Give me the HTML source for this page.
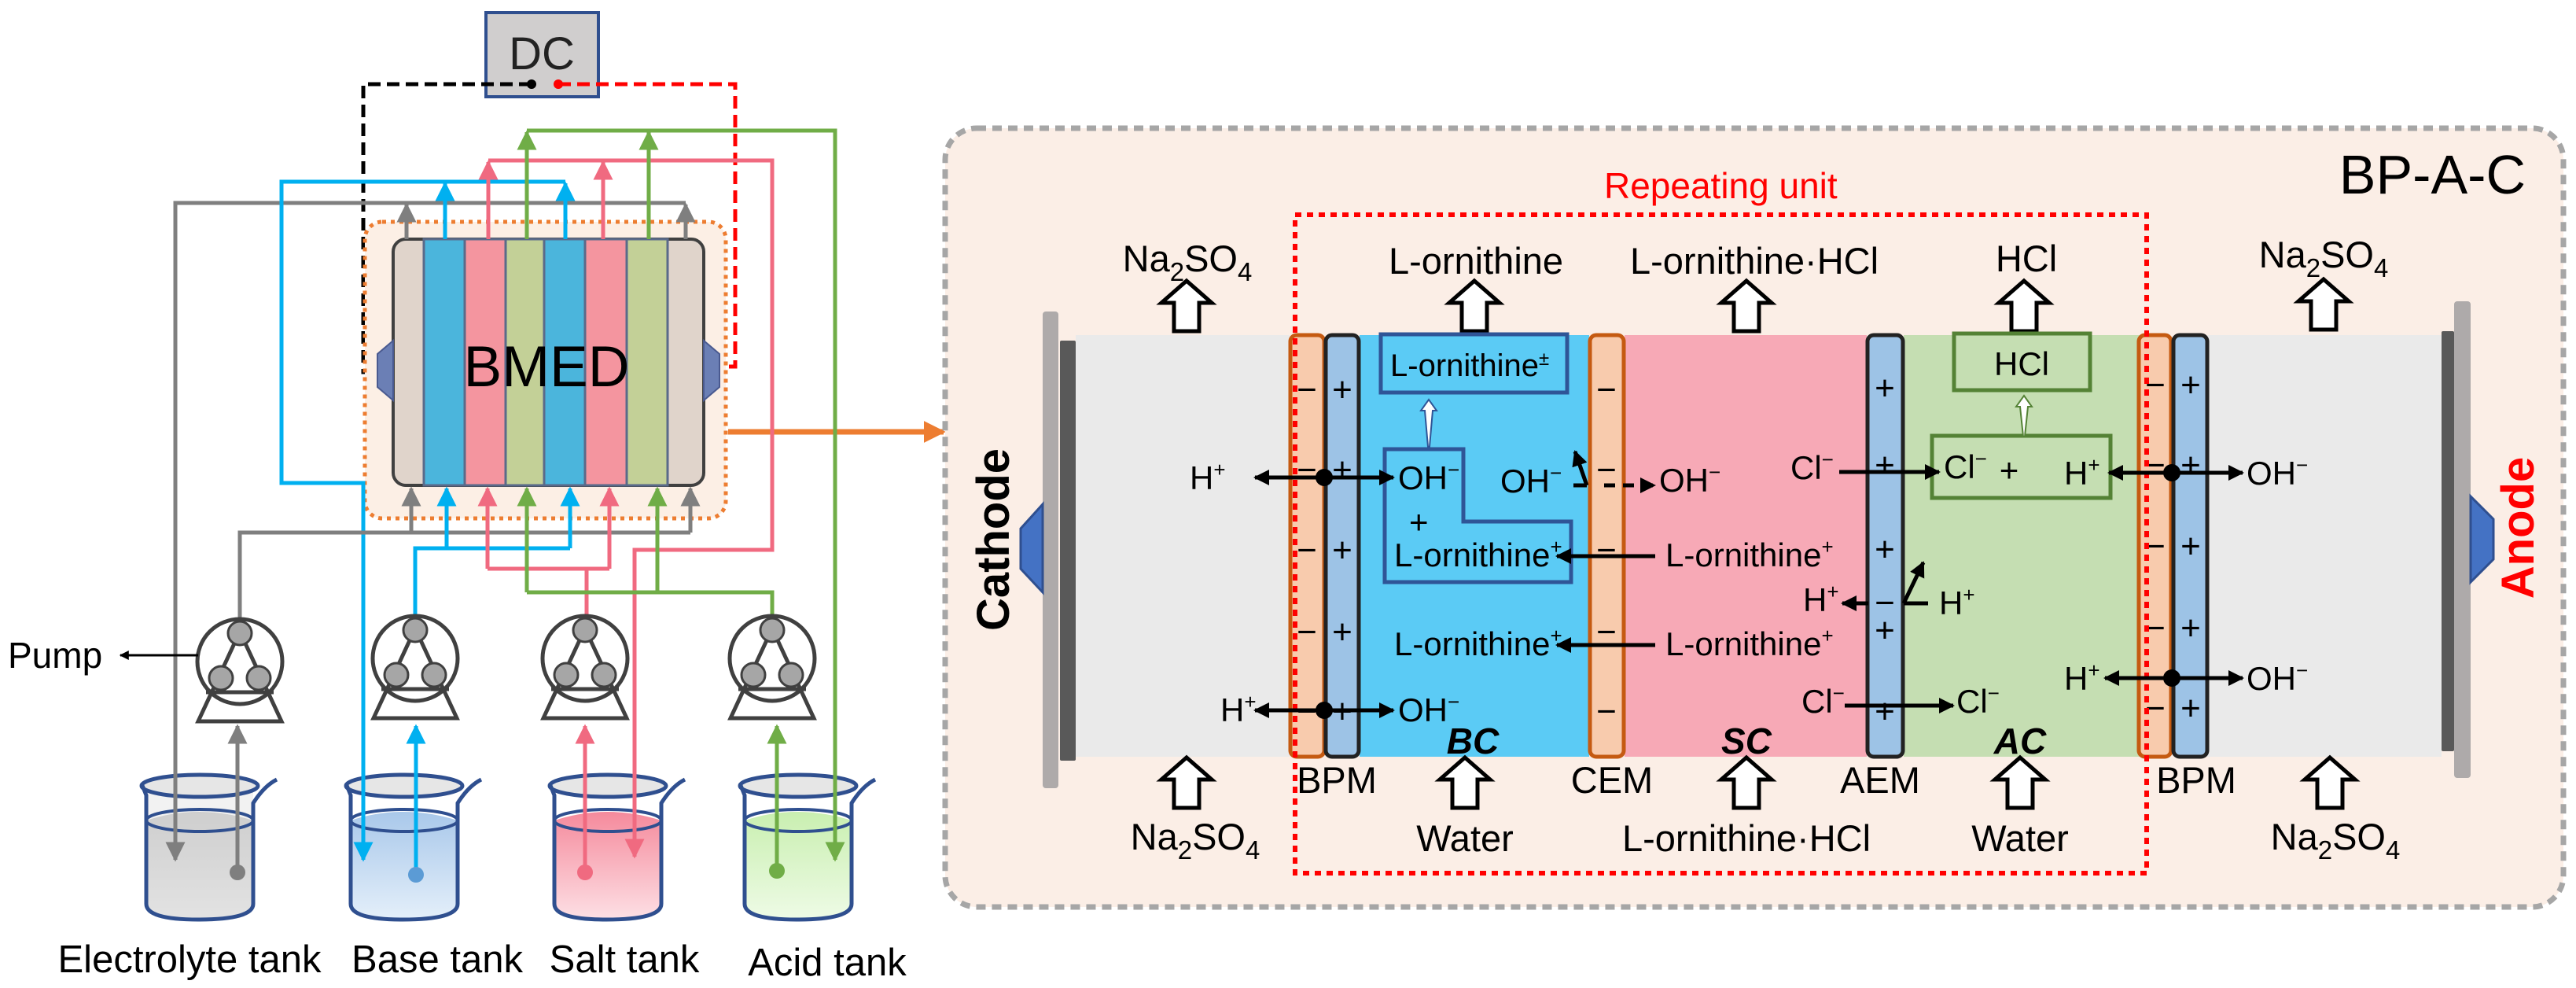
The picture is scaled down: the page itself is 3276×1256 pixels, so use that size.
<!DOCTYPE html>
<html><head><meta charset="utf-8"><style>html,body{margin:0;padding:0;background:#fff}svg{display:block}text{font-family:"Liberation Sans",Arial,sans-serif}</style></head>
<body>
<svg width="3276" height="1256" viewBox="0 0 3276 1256" xmlns="http://www.w3.org/2000/svg">
<defs>
<marker id="mk" viewBox="0 0 10 10" refX="9" refY="5" markerWidth="4" markerHeight="4" orient="auto" markerUnits="strokeWidth"><path d="M0,0L10,5L0,10z" fill="#000"/></marker>
<marker id="mgr" viewBox="0 0 10 10" refX="9" refY="5" markerWidth="5" markerHeight="5" orient="auto" markerUnits="strokeWidth"><path d="M0,0L10,5L0,10z" fill="#7f7f7f"/></marker>
<marker id="mbl" viewBox="0 0 10 10" refX="9" refY="5" markerWidth="5" markerHeight="5" orient="auto" markerUnits="strokeWidth"><path d="M0,0L10,5L0,10z" fill="#00b0f0"/></marker>
<marker id="mpk" viewBox="0 0 10 10" refX="9" refY="5" markerWidth="5" markerHeight="5" orient="auto" markerUnits="strokeWidth"><path d="M0,0L10,5L0,10z" fill="#f06a80"/></marker>
<marker id="mgn" viewBox="0 0 10 10" refX="9" refY="5" markerWidth="5" markerHeight="5" orient="auto" markerUnits="strokeWidth"><path d="M0,0L10,5L0,10z" fill="#70ad47"/></marker>
<marker id="mor" viewBox="0 0 10 10" refX="9" refY="5" markerWidth="4" markerHeight="4" orient="auto" markerUnits="strokeWidth"><path d="M0,0L10,5L0,10z" fill="#ed7d31"/></marker>
<linearGradient id="gE" x1="0" y1="0" x2="0" y2="1"><stop offset="0" stop-color="#c8c8c8"/><stop offset="1" stop-color="#e8e8e8"/></linearGradient>
<linearGradient id="gB" x1="0" y1="0" x2="0" y2="1"><stop offset="0" stop-color="#a9c8ea"/><stop offset="1" stop-color="#e4effa"/></linearGradient>
<linearGradient id="gS" x1="0" y1="0" x2="0" y2="1"><stop offset="0" stop-color="#f58a9c"/><stop offset="1" stop-color="#fde0e5"/></linearGradient>
<linearGradient id="gA" x1="0" y1="0" x2="0" y2="1"><stop offset="0" stop-color="#c9efb0"/><stop offset="1" stop-color="#eefbe6"/></linearGradient>
<g id="beaker">
  <path d="M4,15 L10,30 L10,168 Q10,188 76,188 Q146,188 146,168 L146,40 Q160,18 176,10" fill="none" stroke="#2f4f8f" stroke-width="5"/>
</g>
</defs>

<!-- DC -->
<rect x="618" y="16" width="143" height="107" fill="#d0cece" stroke="#2f4f8f" stroke-width="4"/>
<text x="689" y="88" font-size="58" text-anchor="middle" fill="#222">DC</text>
<polyline points="676,107 462,107 462,473 478,473" fill="none" stroke="#000" stroke-width="5" stroke-dasharray="16,8"/>
<polyline points="710,107 935,107 935,466 918,466" fill="none" stroke="#ff0000" stroke-width="5" stroke-dasharray="16,8"/>
<circle cx="676" cy="107" r="6" fill="#000"/>
<circle cx="710" cy="107" r="6" fill="#ff0000"/>

<rect x="464" y="282" width="459" height="377" rx="22" fill="#fcefe5" stroke="#ed7d31" stroke-width="5" stroke-dasharray="5,6"/>
<rect x="500" y="304" width="395" height="313" rx="16" fill="#e0d4cb" stroke="#404040" stroke-width="4"/>
<rect x="539" y="304" width="52" height="313" fill="#4bb5dc" stroke="#5a6a8a" stroke-width="3"/>
<rect x="591" y="304" width="52" height="313" fill="#f4959f" stroke="#5a6a8a" stroke-width="3"/>
<rect x="643" y="304" width="49" height="313" fill="#c3d097" stroke="#5a6a8a" stroke-width="3"/>
<rect x="692" y="304" width="52" height="313" fill="#4bb5dc" stroke="#5a6a8a" stroke-width="3"/>
<rect x="744" y="304" width="53" height="313" fill="#f4959f" stroke="#5a6a8a" stroke-width="3"/>
<rect x="797" y="304" width="52" height="313" fill="#c3d097" stroke="#5a6a8a" stroke-width="3"/>
<path d="M500,433 L480,450 L480,492 L500,509 Z" fill="#6b7fb5" stroke="#4a5a90" stroke-width="2"/>
<path d="M895,433 L915,450 L915,492 L895,509 Z" fill="#6b7fb5" stroke="#4a5a90" stroke-width="2"/>
<text x="695" y="491" font-size="73" text-anchor="middle" fill="#000">BMED</text>
<line x1="926" y1="549" x2="1200" y2="549" stroke="#ed7d31" stroke-width="7" marker-end="url(#mor)"/>

<!-- tanks (drawn before pipes) -->
<g transform="translate(176,981)">
 <path d="M10,62 Q76,40 146,62 L146,168 Q146,188 76,188 Q10,188 10,168 Z" fill="url(#gE)"/>
 <path d="M10,25 L10,168 Q10,188 76,188 Q146,188 146,168 L146,25" fill="#d9d9d9" fill-opacity="0.35"/>
 <ellipse cx="78" cy="62" rx="68" ry="14" fill="none" stroke="#2f4f8f" stroke-width="4"/>
 <ellipse cx="78" cy="18" rx="74" ry="14" fill="#e6e6e6" stroke="#2f4f8f" stroke-width="5"/>
 <use href="#beaker"/>
</g>
<g transform="translate(436,981)">
 <path d="M10,62 Q76,40 146,62 L146,168 Q146,188 76,188 Q10,188 10,168 Z" fill="url(#gB)"/>
 <ellipse cx="78" cy="62" rx="68" ry="14" fill="none" stroke="#2f4f8f" stroke-width="4"/>
 <ellipse cx="78" cy="18" rx="74" ry="14" fill="#e6e6e6" stroke="#2f4f8f" stroke-width="5"/>
 <use href="#beaker"/>
</g>
<g transform="translate(695,981)">
 <path d="M10,62 Q76,40 146,62 L146,168 Q146,188 76,188 Q10,188 10,168 Z" fill="url(#gS)"/>
 <ellipse cx="78" cy="62" rx="68" ry="14" fill="none" stroke="#2f4f8f" stroke-width="4"/>
 <ellipse cx="78" cy="18" rx="74" ry="14" fill="#e6e6e6" stroke="#2f4f8f" stroke-width="5"/>
 <use href="#beaker"/>
</g>
<g transform="translate(937,981)">
 <path d="M10,62 Q76,40 146,62 L146,168 Q146,188 76,188 Q10,188 10,168 Z" fill="url(#gA)"/>
 <ellipse cx="78" cy="62" rx="68" ry="14" fill="none" stroke="#2f4f8f" stroke-width="4"/>
 <ellipse cx="78" cy="18" rx="74" ry="14" fill="#e6e6e6" stroke="#2f4f8f" stroke-width="5"/>
 <use href="#beaker"/>
</g>

<g fill="none" stroke-width="5">
<polyline points="872,258 223,258 223,1093" stroke="#7f7f7f" marker-end="url(#mgr)"/>
<line x1="517" y1="304" x2="517" y2="260" stroke="#7f7f7f" marker-end="url(#mgr)"/>
<line x1="872" y1="304" x2="872" y2="260" stroke="#7f7f7f" marker-end="url(#mgr)"/>
<polyline points="719,231 358,231 358,614 462,614 462,1093" stroke="#00b0f0" marker-end="url(#mbl)"/>
<line x1="566" y1="304" x2="566" y2="233" stroke="#00b0f0" marker-end="url(#mbl)"/>
<line x1="719" y1="304" x2="719" y2="233" stroke="#00b0f0" marker-end="url(#mbl)"/>
<polyline points="621,204 982,204 982,699 807,699 807,1089" stroke="#f06a80" marker-end="url(#mpk)"/>
<line x1="621" y1="304" x2="621" y2="206" stroke="#f06a80" marker-end="url(#mpk)"/>
<line x1="767" y1="304" x2="767" y2="206" stroke="#f06a80" marker-end="url(#mpk)"/>
<polyline points="670,166 1062,166 1062,1093" stroke="#70ad47" marker-end="url(#mgn)"/>
<line x1="670" y1="304" x2="670" y2="168" stroke="#70ad47" marker-end="url(#mgn)"/>
<line x1="825" y1="304" x2="825" y2="168" stroke="#70ad47" marker-end="url(#mgn)"/>
</g>
<g fill="none" stroke-width="5">
<polyline points="305,793 305,677 878,677" stroke="#7f7f7f"/>
<line x1="523" y1="677" x2="523" y2="621" stroke="#7f7f7f" marker-end="url(#mgr)"/>
<line x1="878" y1="677" x2="878" y2="621" stroke="#7f7f7f" marker-end="url(#mgr)"/>
<polyline points="528,793 528,697 725,697" stroke="#00b0f0"/>
<line x1="568" y1="697" x2="568" y2="621" stroke="#00b0f0" marker-end="url(#mbl)"/>
<line x1="725" y1="697" x2="725" y2="621" stroke="#00b0f0" marker-end="url(#mbl)"/>
<polyline points="746,793 746,723" stroke="#f06a80"/>
<polyline points="620,723 775,723" stroke="#f06a80"/>
<line x1="620" y1="723" x2="620" y2="621" stroke="#f06a80" marker-end="url(#mpk)"/>
<line x1="775" y1="723" x2="775" y2="621" stroke="#f06a80" marker-end="url(#mpk)"/>
<polyline points="982,793 982,753 670,753" stroke="#70ad47"/>
<line x1="670" y1="753" x2="670" y2="621" stroke="#70ad47" marker-end="url(#mgn)"/>
<line x1="836" y1="753" x2="836" y2="621" stroke="#70ad47" marker-end="url(#mgn)"/>
</g>

<g fill="none" stroke-width="5">
<line x1="302" y1="1109" x2="302" y2="923" stroke="#7f7f7f" marker-end="url(#mgr)"/>
<line x1="529" y1="1112" x2="529" y2="923" stroke="#00b0f0" marker-end="url(#mbl)"/>
<line x1="744" y1="1109" x2="744" y2="923" stroke="#f06a80" marker-end="url(#mpk)"/>
<line x1="988" y1="1107" x2="988" y2="923" stroke="#70ad47" marker-end="url(#mgn)"/>
</g>
<circle cx="302" cy="1109" r="10" fill="#7f7f7f"/>
<circle cx="529" cy="1112" r="10" fill="#5b9bd5"/>
<circle cx="744" cy="1109" r="10" fill="#f06a80"/>
<circle cx="988" cy="1107" r="10" fill="#70ad47"/>

<g id="pump" stroke="#404040" stroke-width="5" fill="none">
 <circle cx="305" cy="841" r="54" fill="#fff"/>
 <path d="M305,803 L252,917 L358,917 Z"/>
 <line x1="262" y1="880" x2="348" y2="880"/>
 <circle cx="305" cy="805" r="15" fill="#a6a6a6" stroke-width="3"/>
 <circle cx="281" cy="862" r="15" fill="#a6a6a6" stroke-width="3"/>
 <circle cx="329" cy="862" r="15" fill="#a6a6a6" stroke-width="3"/>
</g>
<use href="#pump" transform="translate(223,-4)"/>
<use href="#pump" transform="translate(439,-4)"/>
<use href="#pump" transform="translate(677,-4)"/>
<line x1="252" y1="833" x2="153" y2="833" stroke="#000" stroke-width="3" marker-end="url(#mk)"/>
<text x="10" y="849" font-size="46">Pump</text>

<text x="241" y="1236" font-size="49" text-anchor="middle">Electrolyte  tank</text>
<text x="556" y="1236" font-size="49" text-anchor="middle">Base tank</text>
<text x="794" y="1236" font-size="49" text-anchor="middle">Salt  tank</text>
<text x="1052" y="1240" font-size="49" text-anchor="middle">Acid tank</text>

<!-- RIGHT PANEL -->
<rect x="1202" y="163" width="2058" height="990" rx="40" fill="#fbeee6" stroke="#a6a6a6" stroke-width="7" stroke-dasharray="12,8"/>
<text x="3212" y="246" font-size="70" text-anchor="end">BP-A-C</text>

<rect x="1368" y="426" width="272" height="536" fill="#eaeaea"/>
<rect x="1729" y="426" width="292" height="536" fill="#5bcbf5"/>
<rect x="2066" y="426" width="308" height="536" fill="#f7a9b6"/>
<rect x="2421" y="426" width="300" height="536" fill="#c5deb2"/>
<rect x="2807" y="426" width="298" height="536" fill="#eaeaea"/>
<rect x="1326" y="396" width="20" height="606" rx="4" fill="#aeaaaa"/>
<rect x="1348" y="433" width="20" height="534" rx="2" fill="#595959"/>
<path d="M1326,641 L1298,672 L1298,723 L1326,753 Z" fill="#4472c4" stroke="#2f4f8f" stroke-width="3"/>
<rect x="3121" y="383" width="21" height="606" rx="4" fill="#aeaaaa"/>
<rect x="3105" y="421" width="16" height="534" rx="2" fill="#595959"/>
<path d="M3142,631 L3171,660 L3171,711 L3142,740 Z" fill="#4472c4" stroke="#2f4f8f" stroke-width="3"/>
<text transform="translate(1283,686) rotate(-90)" font-size="58" font-weight="bold" text-anchor="middle">Cathode</text>
<text transform="translate(3222,671) rotate(-90)" font-size="58" font-weight="bold" text-anchor="middle" fill="#ff0000">Anode</text>

<rect x="1641" y="426" width="43" height="536" rx="8" fill="#f8cbad" stroke="#c55a11" stroke-width="5"/>
<rect x="1686" y="426" width="42" height="536" rx="8" fill="#9dc3e6" stroke="#222" stroke-width="5"/>
<rect x="2022" y="426" width="43" height="536" rx="8" fill="#f8cbad" stroke="#c55a11" stroke-width="5"/>
<rect x="2375" y="426" width="45" height="536" rx="8" fill="#9dc3e6" stroke="#222" stroke-width="5"/>
<rect x="2720" y="426" width="41" height="536" rx="8" fill="#f8cbad" stroke="#c55a11" stroke-width="5"/>
<rect x="2764" y="426" width="43" height="536" rx="8" fill="#9dc3e6" stroke="#222" stroke-width="5"/>

<g font-size="44" text-anchor="middle">
<text x="1662" y="510">−</text><text x="1662" y="612">−</text><text x="1662" y="714">−</text><text x="1662" y="818">−</text><text x="1662" y="919">−</text>
<text x="1707" y="510">+</text><text x="1707" y="612">+</text><text x="1707" y="714">+</text><text x="1707" y="818">+</text><text x="1707" y="919">+</text>
<text x="2043" y="510">−</text><text x="2043" y="612">−</text><text x="2043" y="714">−</text><text x="2043" y="818">−</text><text x="2043" y="919">−</text>
<text x="2397" y="508">+</text><text x="2397" y="606">+</text><text x="2397" y="713">+</text><text x="2397" y="816">+</text><text x="2397" y="919">+</text>
<text x="2397" y="781">−</text>
<text x="2741" y="504">−</text><text x="2741" y="606">−</text><text x="2741" y="709">−</text><text x="2741" y="813">−</text><text x="2741" y="915">−</text>
<text x="2786" y="504">+</text><text x="2786" y="606">+</text><text x="2786" y="709">+</text><text x="2786" y="813">+</text><text x="2786" y="915">+</text>
</g>

<rect x="1647" y="273" width="1083" height="837" fill="none" stroke="#ff0000" stroke-width="6" stroke-dasharray="8,7"/>
<text x="2040" y="252" font-size="46" fill="#ff0000">Repeating unit</text>

<g fill="#fff" stroke="#000" stroke-width="5" stroke-linejoin="miter">
<path d="M1509,357 l32,28 l-16,0 l0,36 l-32,0 l0,-36 l-16,0 z"/>
<path d="M1875,357 l32,28 l-16,0 l0,36 l-32,0 l0,-36 l-16,0 z"/>
<path d="M2221,357 l32,28 l-16,0 l0,36 l-32,0 l0,-36 l-16,0 z"/>
<path d="M2574,357 l32,28 l-16,0 l0,36 l-32,0 l0,-36 l-16,0 z"/>
<path d="M2955,355 l32,28 l-16,0 l0,36 l-32,0 l0,-36 l-16,0 z"/>
<path d="M1509,963 l32,28 l-16,0 l0,36 l-32,0 l0,-36 l-16,0 z"/>
<path d="M1863,963 l32,28 l-16,0 l0,36 l-32,0 l0,-36 l-16,0 z"/>
<path d="M2221,963 l32,28 l-16,0 l0,36 l-32,0 l0,-36 l-16,0 z"/>
<path d="M2569,963 l32,28 l-16,0 l0,36 l-32,0 l0,-36 l-16,0 z"/>
<path d="M2963,963 l32,28 l-16,0 l0,36 l-32,0 l0,-36 l-16,0 z"/>
</g>

<g font-size="47" text-anchor="middle">
<text x="1510" y="345">Na<tspan font-size="33" dy="12">2</tspan><tspan dy="-12">SO</tspan><tspan font-size="33" dy="12">4</tspan></text>
<text x="1877" y="348">L-ornithine</text>
<text x="2231" y="348">L-ornithine·HCl</text>
<text x="2577" y="345">HCl</text>
<text x="2955" y="340">Na<tspan font-size="33" dy="12">2</tspan><tspan dy="-12">SO</tspan><tspan font-size="33" dy="12">4</tspan></text>
<text x="1520" y="1080">Na<tspan font-size="33" dy="12">2</tspan><tspan dy="-12">SO</tspan><tspan font-size="33" dy="12">4</tspan></text>
<text x="1863" y="1082">Water</text>
<text x="2221" y="1082">L-ornithine·HCl</text>
<text x="2569" y="1082">Water</text>
<text x="2970" y="1080">Na<tspan font-size="33" dy="12">2</tspan><tspan dy="-12">SO</tspan><tspan font-size="33" dy="12">4</tspan></text>
<text x="1700" y="1008">BPM</text>
<text x="2050" y="1008">CEM</text>
<text x="2391" y="1008">AEM</text>
<text x="2793" y="1008">BPM</text>
</g>
<g font-size="46" font-weight="bold" font-style="italic" text-anchor="middle">
<text x="1873" y="958">BC</text>
<text x="2221" y="958">SC</text>
<text x="2569" y="958">AC</text>
</g>

<rect x="1756" y="425" width="237" height="74" fill="none" stroke="#2f5597" stroke-width="5"/>
<text x="1768" y="478" font-size="40">L-ornithine<tspan font-size="24" dy="-14">±</tspan></text>
<path d="M1761,571 L1861,571 L1861,663 L1998,663 L1998,740 L1761,740 Z" fill="none" stroke="#2f5597" stroke-width="5"/>
<path d="M1817,508 l10,14 l-5,0 l-4,46 l-2,0 l-4,-46 l-5,0 z" fill="#fff" stroke="#2f5597" stroke-width="2"/>
<rect x="2485" y="424" width="173" height="72" fill="none" stroke="#548235" stroke-width="5"/>
<text x="2571" y="477" font-size="42" text-anchor="middle">HCl</text>
<rect x="2457" y="554" width="227" height="79" fill="none" stroke="#548235" stroke-width="5"/>
<path d="M2574,503 l10,14 l-5,0 l-4,38 l-2,0 l-4,-38 l-5,0 z" fill="#fff" stroke="#548235" stroke-width="2"/>

<g font-size="42">
<text x="1513" y="622">H<tspan font-size="26" dy="-16">+</tspan></text>
<text x="1778" y="622">OH<tspan font-size="26" dy="-16">−</tspan></text>
<text x="1792" y="678">+</text>
<text x="1773" y="720">L-ornithine<tspan font-size="26" dy="-16">+</tspan></text>
<text x="1908" y="626">OH<tspan font-size="26" dy="-16">−</tspan></text>
<text x="2110" y="625">OH<tspan font-size="26" dy="-16">−</tspan></text>
<text x="2118" y="720">L-ornithine<tspan font-size="26" dy="-16">+</tspan></text>
<text x="1773" y="833">L-ornithine<tspan font-size="26" dy="-16">+</tspan></text>
<text x="2118" y="833">L-ornithine<tspan font-size="26" dy="-16">+</tspan></text>
<text x="1552" y="917">H<tspan font-size="26" dy="-16">+</tspan></text>
<text x="1778" y="917">OH<tspan font-size="26" dy="-16">−</tspan></text>
<text x="2277" y="609">Cl<tspan font-size="26" dy="-16">−</tspan></text>
<text x="2472" y="608">Cl<tspan font-size="26" dy="-16">−</tspan></text>
<text x="2555" y="612" text-anchor="middle">+</text>
<text x="2625" y="616">H<tspan font-size="26" dy="-16">+</tspan></text>
<text x="2857" y="616">OH<tspan font-size="26" dy="-16">−</tspan></text>
<text x="2293" y="777">H<tspan font-size="26" dy="-16">+</tspan></text>
<text x="2466" y="781">H<tspan font-size="26" dy="-16">+</tspan></text>
<text x="2291" y="906">Cl<tspan font-size="26" dy="-16">−</tspan></text>
<text x="2488" y="906">Cl<tspan font-size="26" dy="-16">−</tspan></text>
<text x="2625" y="877">H<tspan font-size="26" dy="-16">+</tspan></text>
<text x="2857" y="877">OH<tspan font-size="26" dy="-16">−</tspan></text>
</g>

<g stroke="#000" stroke-width="5" fill="none">
<line x1="1684" y1="607" x2="1596" y2="607" marker-end="url(#mk)"/>
<line x1="1684" y1="607" x2="1772" y2="607" marker-end="url(#mk)"/>
<line x1="1684" y1="903" x2="1596" y2="903" marker-end="url(#mk)"/>
<line x1="1684" y1="903" x2="1772" y2="903" marker-end="url(#mk)"/>
<line x1="2105" y1="707" x2="1980" y2="707" marker-end="url(#mk)"/>
<line x1="2105" y1="820" x2="1980" y2="820" marker-end="url(#mk)"/>
<line x1="2018" y1="617" x2="2001" y2="617"/>
<line x1="2018" y1="617" x2="2003" y2="574" marker-end="url(#mk)"/>
<line x1="2040" y1="617" x2="2104" y2="617" stroke-dasharray="14,10" marker-end="url(#mk)"/>
<line x1="2339" y1="600" x2="2466" y2="600" marker-end="url(#mk)"/>
<line x1="2376" y1="767" x2="2343" y2="767" marker-end="url(#mk)"/>
<polyline points="2452,767 2421,767"/>
<line x1="2421" y1="767" x2="2446" y2="715" marker-end="url(#mk)"/>
<line x1="2346" y1="897" x2="2484" y2="897" marker-end="url(#mk)"/>
<line x1="2762" y1="601" x2="2682" y2="601" marker-end="url(#mk)"/>
<line x1="2762" y1="601" x2="2852" y2="601" marker-end="url(#mk)"/>
<line x1="2762" y1="862" x2="2677" y2="862" marker-end="url(#mk)"/>
<line x1="2762" y1="862" x2="2852" y2="862" marker-end="url(#mk)"/>
</g>
<circle cx="1684" cy="607" r="11" fill="#000"/>
<circle cx="1684" cy="903" r="11" fill="#000"/>
<circle cx="2762" cy="601" r="11" fill="#000"/>
<circle cx="2762" cy="862" r="11" fill="#000"/>
</svg>
</body></html>
